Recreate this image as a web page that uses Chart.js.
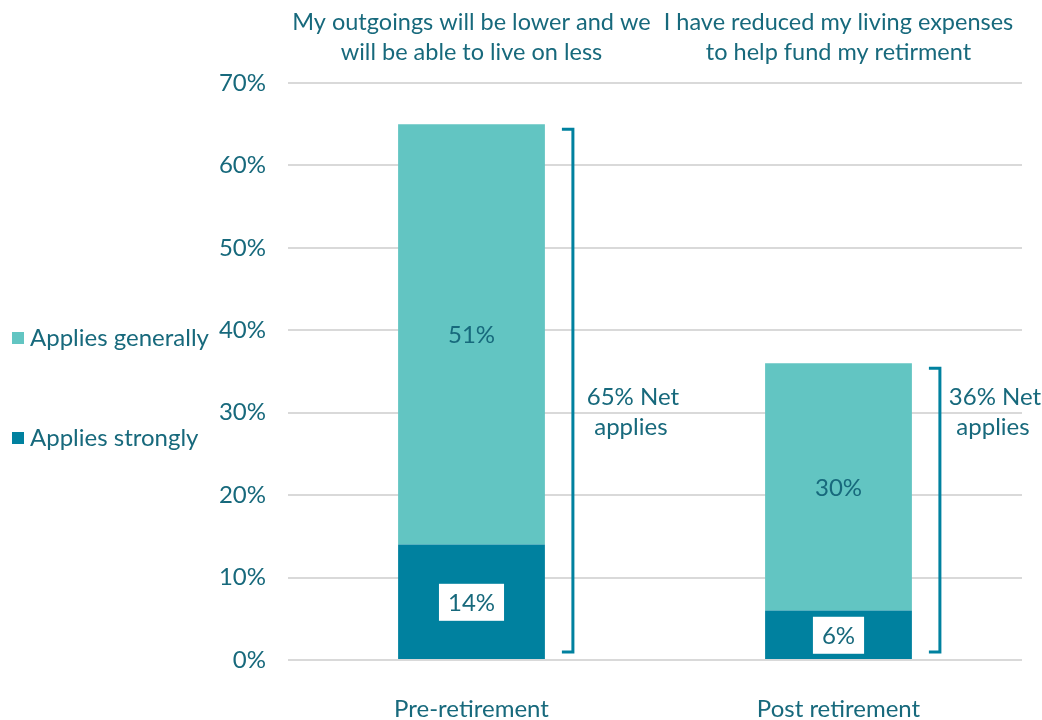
<!DOCTYPE html>
<html>
<head>
<meta charset="utf-8">
<script src="https://cdn.jsdelivr.net/npm/chart.js@4"></script>
<style>
  body { margin: 0; background: #fff; }
  #wrap { width: 1042px; height: 720px; }
</style>
</head>
<body>
<div id="wrap"><canvas id="grafico"></canvas></div>
<script>
const categorias = ["Pre-retirement", "Post retirement"];
const titulos = [
  ["My outgoings will be lower and we", "will be able to live on less"],
  ["I have reduced my living expenses", "to help fund my retirment"]
];
const fortemente = [14, 6];
const geralmente = [51, 30];
const liquido = [65, 36];

const corTexto = "#17697C";
const corClara = "#62C5C2";
const corEscura = "#00819F";
const fonte = "Lato, 'Open Sans', sans-serif";

/* rotulos, chaves e legenda desenhados a mao */
const extras = {
  id: "extras",
  afterDatasetsDraw(chart) {
    const c = chart.ctx;
    const x = chart.scales.x;
    const y = chart.scales.y;
    c.save();
    c.textAlign = "center";
    c.textBaseline = "middle";

    // titulos acima de cada coluna
    c.font = "23.5px " + fonte;
    categorias.forEach((cat, i) => {
      const cx = x.getPixelForValue(i);
      c.fillStyle = corTexto;
      c.fillText(titulos[i][0], cx, 22);
      c.fillText(titulos[i][1], cx, 52);
    });

    c.font = "24px " + fonte;
    const m0 = chart.getDatasetMeta(0);
    const m1 = chart.getDatasetMeta(1);
    categorias.forEach((cat, i) => {
      // valor dentro da barra escura, em caixa branca
      const b0 = m0.data[i];
      const cy0 = (b0.y + b0.base) / 2;
      const txt0 = fortemente[i] + "%";
      const w0 = c.measureText(txt0).width + 18;
      c.fillStyle = "#fff";
      c.fillRect(b0.x - w0 / 2, cy0 - 18, w0, 37);
      c.fillStyle = corTexto;
      c.fillText(txt0, b0.x, cy0 + 1);

      // valor da barra clara
      const b1 = m1.data[i];
      c.fillText(geralmente[i] + "%", b1.x, (b1.y + b1.base) / 2 + 1);

      // chave
      const bx = b1.x + b1.width / 2 + 28;
      const topo = y.getPixelForValue(liquido[i]) + 5;
      const base = y.getPixelForValue(0) - 8;
      c.strokeStyle = corEscura;
      c.lineWidth = 3;
      c.beginPath();
      c.moveTo(bx - 11, topo);
      c.lineTo(bx, topo);
      c.lineTo(bx, base);
      c.lineTo(bx - 11, base);
      c.stroke();

      // texto do total
      const tx = Math.min(bx + 60, chart.width - 47);
      const ty = y.getPixelForValue(30);
      c.fillStyle = corTexto;
      c.fillText(liquido[i] + "% Net", tx, ty - 15);
      c.fillText("applies", tx - 2, ty + 15);
    });

    // legenda a esquerda
    const itens = [
      { t: "Applies generally", cor: corClara, yy: 338 },
      { t: "Applies strongly", cor: corEscura, yy: 438 }
    ];
    c.textAlign = "left";
    itens.forEach(it => {
      c.fillStyle = it.cor;
      c.fillRect(12, it.yy - 6, 12, 12);
      c.fillStyle = corTexto;
      c.fillText(it.t, 30, it.yy);
    });
    c.restore();
  }
};

const ctx = document.getElementById("grafico");

new Chart(ctx, {
  type: "bar",
  data: {
    labels: categorias,
    datasets: [
      {
        label: "Applies strongly",
        data: fortemente,
        backgroundColor: corEscura,
      },
      {
        label: "Applies generally",
        data: geralmente,
        backgroundColor: corClara,
      },
    ],
  },
  options: {
    responsive: true,
    maintainAspectRatio: false,
    animation: false,
    layout: { padding: { left: 200, top: 83, right: 20, bottom: 0 } },
    datasets: { bar: { categoryPercentage: 1, barPercentage: 0.4 } },
    scales: {
      x: {
        stacked: true,
        grid: { display: false, drawTicks: false },
        border: { display: false },
        ticks: { color: corTexto, padding: 35, maxRotation: 0, font: { family: fonte, size: 24 } },
        afterFit: s => { s.height = 60; },
      },
      y: {
        stacked: true,
        min: 0,
        max: 70,
        border: { display: false },
        grid: { color: "#d9d9d9", lineWidth: 2, drawTicks: false },
        ticks: {
          stepSize: 10,
          padding: 22,
          color: corTexto,
          font: { family: fonte, size: 24 },
          callback: v => v + "%",
        },
        afterFit: s => { s.width = 88; },
      },
    },
    plugins: {
      legend: { display: false },
      tooltip: { enabled: false },
    },
  },
  plugins: [extras],
});
</script>
</body>
</html>
